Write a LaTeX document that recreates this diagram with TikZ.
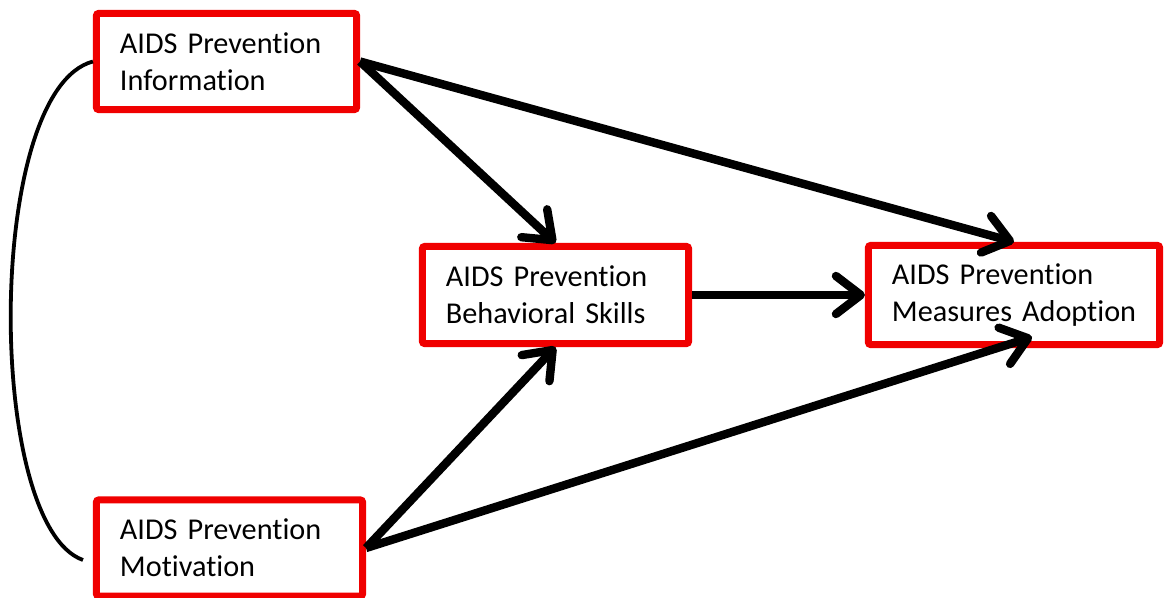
\documentclass[tikz,border=0pt]{standalone}
\usepackage{fontspec}
\setmainfont{Carlito}[Ligatures=NoCommon]
\usepackage{xcolor}
\definecolor{cBox}{HTML}{F00000}
\definecolor{cLine}{HTML}{000000}
\usetikzlibrary{arrows.meta}
\tikzset{
  node-box/.style={draw=cBox,line width=0.175cm,fill=white,rounded corners=1.5pt,
    align=left,inner xsep=0.5875cm,minimum height=2.4cm,
    font=\fontsize{21.5}{26.3}\selectfont},
  arrow/.style={-{Straight Barb[length=0.62cm,width=0.95cm,round]},line width=0.21cm,draw=cLine},
  link/.style={line width=0.095cm,draw=cLine},
}

\begin{document}
\begin{tikzpicture}[x=0.025cm,y=-0.025cm]
  \useasboundingbox (0,0) rectangle (1164,598);
  \node[node-box,text width=5.325cm]                    (info)  at (226.5,61.5) {AIDS Prevention\\Information};
  \node[node-box,text width=5.475cm,minimum height=2.425cm] (skill) at (555.5,295)  {AIDS Prevention\\Behavioral Skills};
  \node[node-box,text width=6.1cm,minimum height=2.475cm]   (adopt) at (1014,295)   {AIDS Prevention\\\mbox{Measures Adoption}};
  \node[node-box,text width=5.475cm]                    (motiv) at (229.5,548)  {AIDS Prevention\\Motivation};
  % correlation between information and motivation
  \draw[link] (info.west) .. controls (-15,90) and (-15,525) .. ([xshift=-0.25cm,yshift=-0.3cm]motiv.west);
  \draw[arrow] (info.east)  -- (skill.north);
  \draw[arrow] (info.east)  -- (adopt.north);
  \draw[arrow] (skill.east) -- (adopt.west);
  \draw[arrow] (motiv.east) -- (skill.south);
  \draw[arrow] (motiv.east) -- ([xshift=0.45cm,yshift=0.275cm]adopt.south);
\end{tikzpicture}
\end{document}
